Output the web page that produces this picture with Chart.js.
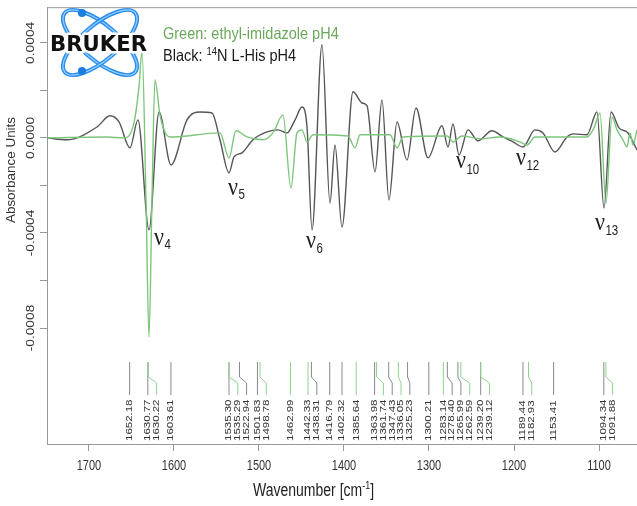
<!DOCTYPE html>
<html><head><meta charset="utf-8">
<script src="https://cdn.jsdelivr.net/npm/chart.js@4.4.0/dist/chart.umd.min.js"></script>
<style>html,body{margin:0;padding:0;background:#fff;overflow:hidden}#wrap{width:637px;height:506px}</style>
</head><body><div id="wrap"><canvas id="c" width="637" height="506"></canvas></div>
<script>
// ---- data ----
const xTicks = [1700, 1600, 1500, 1400, 1300, 1200, 1100];
const yTicks = [0.0004, 0.0002, 0, -0.0002, -0.0004, -0.0006, -0.0008];
const yLabelTicks = [0.0004, 0, -0.0004, -0.0008];
const yTickLabels = ['0.0004', '0.0000', '-0.0004', '-0.0008'];

const blackWn = [1749.4,1726.0,1690.6,1675.3,1664.7,1651.8,1642.4,1629.4,1617.6,1603.5,1584.7,1569.4,1555.3,1545.9,1535.3,1529.4,1520.0,1507.1,1490.6,1477.6,1467.1,1457.6,1449.4,1443.5,1437.6,1425.9,1416.5,1410.6,1402.4,1389.4,1378.8,1372.9,1363.5,1355.3,1347.1,1337.6,1325.9,1315.3,1301.2,1284.7,1277.6,1271.8,1264.7,1254.1,1242.4,1226.0,1212.9,1201.2,1189.4,1175.3,1165.9,1151.8,1137.6,1130.6,1114.1,1102.4,1094.1,1085.9,1076.5,1065.9,1060.0,1055.3];
const blackAbs = [0,-0.000008,0.000046,0.000093,0.000067,-0.000042,0.000076,-0.000387,0.000109,-0.000114,0.000076,0.000109,0.000105,-0.000008,-0.000147,-0.000080,-0.000063,-0.000008,0.000025,0.000034,0.000021,0.000076,0.000130,0.000046,-0.000387,0.000392,-0.000274,-0.000030,-0.000375,0.000194,0.000147,0.000135,-0.000143,0.000160,-0.000261,0.000067,-0.000093,0.000126,-0.000084,0.000051,-0.000038,0.000059,-0.000072,0.000034,-0.000012,0.000030,0.000004,-0.000017,-0.000038,0.000034,0.000021,-0.000059,0.000004,0.000017,0.000013,0.000109,-0.000295,0.000109,0.000042,0.000021,-0.000017,-0.000051];

const greenWn = [1749.4,1678.8,1658.8,1647.1,1641.2,1637.6,1632.9,1629.4,1625.9,1622.4,1616.5,1610.6,1604.7,1545.9,1535.3,1527.1,1514.1,1495.3,1483.5,1471.8,1462.4,1455.3,1449.4,1443.5,1436.5,1395.3,1387.0,1381.2,1345.9,1337.6,1330.6,1278.8,1271.8,1261.2,1240.0,1216.5,1192.9,1184.7,1175.3,1114.1,1105.9,1098.8,1091.8,1084.7,1078.8,1071.8,1067.1,1063.5,1060.0,1055.3];
const greenAbs = [0,0.000004,0,0.000063,0.000215,0.000365,-0.000261,-0.000838,-0.000261,0.000244,0.000097,0.000025,0.000004,0.000021,-0.000084,0.000030,0.000004,-0.000008,0.000021,0.000097,-0.000211,0.000021,0.000034,-0.000017,0.000013,0.000008,-0.000042,0.000013,0.000013,-0.000042,0.000004,0.000008,-0.000017,0.000008,-0.000004,0.000004,-0.000017,-0.000030,0.000004,0.000004,0.000042,0.000105,-0.000274,0.000088,0.000034,-0.000008,-0.000038,0.000021,-0.000030,0.000034];

const peakWn = [1652.18,1630.77,1630.22,1603.61,1535.30,1535.29,1522.94,1501.83,1498.78,1462.99,1442.33,1438.31,1416.79,1402.32,1385.64,1363.98,1361.74,1347.43,1336.05,1325.23,1300.21,1283.14,1278.40,1265.99,1262.59,1239.20,1239.12,1189.44,1182.93,1153.41,1094.34,1091.88];
const peakSeries = ['k','k','g','k','k','g','k','k','g','g','g','k','k','k','g','k','g','k','g','k','k','g','k','k','g','k','g','k','g','k','k','g'];

const nuSubs = ['4','5','6','10','12','13'];

// ---- helpers ----
function txt(c, s, x, y, font, color, rot, sx, sy, align, base) {
  c.save(); c.translate(x, y); if (rot) c.rotate(rot); c.scale(sx, sy);
  c.font = font; c.fillStyle = color; c.textAlign = align; c.textBaseline = base;
  c.fillText(s, 0, 0); c.restore();
}

const deco = {
  id: 'deco',
  afterDraw(chart) {
    const c = chart.ctx, a = chart.chartArea, xs = chart.scales.x, ys = chart.scales.y;
    c.save();
    // top frame line
    c.strokeStyle = '#999'; c.lineWidth = 1;
    c.beginPath(); c.moveTo(a.left, a.top + 0.5); c.lineTo(a.right, a.top + 0.5); c.stroke();

    // x tick labels
    xTicks.forEach(v => txt(c, String(v), xs.getPixelForValue(v), 466, '11px "Liberation Sans"', '#333', 0, 1, 1.3, 'center', 'middle'));
    // y tick labels (rotated)
    yLabelTicks.forEach((v, i) => txt(c, yTickLabels[i], 31, ys.getPixelForValue(v), '11px "Liberation Sans"', '#333', -Math.PI / 2, 1.25, 1, 'center', 'middle'));

    // axis titles
    c.save(); c.translate(253, 491); c.scale(1, 1.25);
    c.font = '14px "Liberation Sans"'; c.fillStyle = '#222'; c.textBaseline = 'middle'; c.textAlign = 'left';
    let w1 = 'Wavenumber [cm'; c.fillText(w1, 0, 0); let wx = c.measureText(w1).width;
    c.font = '9px "Liberation Sans"'; c.fillText('-1', wx, -4); wx += c.measureText('-1').width;
    c.font = '14px "Liberation Sans"'; c.fillText(']', wx, 0);
    c.restore();
    txt(c, 'Absorbance Units', 12, 170, '12px "Liberation Sans"', '#333', -Math.PI / 2, 1.12, 1, 'center', 'middle');

    // legend text
    c.save(); c.translate(163, 34); c.scale(1, 1.15);
    c.font = '14.5px "Liberation Sans"'; c.textBaseline = 'middle'; c.textAlign = 'left';
    c.fillStyle = '#6aa85a'; c.fillText('Green: ethyl-imidazole pH4', 0, 0);
    c.restore();
    c.save(); c.translate(163, 56); c.scale(1, 1.15);
    c.textBaseline = 'middle'; c.textAlign = 'left'; c.fillStyle = '#1a1a1a';
    c.font = '14.5px "Liberation Sans"'; let s1 = 'Black: '; c.fillText(s1, 0, 0); let lx = c.measureText(s1).width;
    c.font = '9.5px "Liberation Sans"'; c.fillText('14', lx, -3.5); lx += c.measureText('14').width;
    c.font = '14.5px "Liberation Sans"'; c.fillText('N L-His pH4', lx, 0);
    c.restore();

    // Bruker logo
    const cx = 100, cy = 42.5;
    [40, -40].forEach(ang => {
      c.save(); c.translate(cx, cy); c.rotate(ang * Math.PI / 180);
      c.beginPath(); c.ellipse(0, 0, 46, 17.7, 0, 0, Math.PI * 2);
      c.strokeStyle = '#2a8cf0'; c.lineWidth = 4; c.stroke();
      c.strokeStyle = '#9ad2ff'; c.lineWidth = 1.2; c.stroke();
      c.restore();
    });
    c.fillStyle = '#1a7ee0';
    [[82, 13], [82, 71]].forEach(p => { c.beginPath(); c.arc(p[0], p[1], 4, 0, Math.PI * 2); c.fill(); });
    c.save();
    c.font = 'bold 21px "DejaVu Sans"';
    const bw = c.measureText('BRUKER').width;
    c.translate(50, 50.5); c.scale(97 / bw, 1);
    c.textAlign = 'left'; c.textBaseline = 'alphabetic';
    c.lineJoin = 'round'; c.strokeStyle = '#fff'; c.lineWidth = 5; c.strokeText('BRUKER', 0, 0);
    c.fillStyle = '#111'; c.fillText('BRUKER', 0, 0);
    c.restore();

    // nu labels
    const nuPos = [[154, 245, 249], [228, 195, 199], [306, 248, 253], [456, 168, 174], [516, 165, 170], [595, 230, 235]];
    c.font = '21px "Liberation Serif"';
    const nuW = c.measureText('ν').width;
    nuPos.forEach((p, i) => {
      txt(c, 'ν', p[0], p[1], '21px "Liberation Serif"', '#222', 0, 1.05, 1.2, 'left', 'alphabetic');
      txt(c, nuSubs[i], p[0] + nuW * 1.05 + 0.5, p[2], '11.5px "Liberation Sans"', '#222', 0, 1, 1.3, 'left', 'alphabetic');
    });

    // peak position labels
    const items = peakWn.map((w, i) => ({ w, s: peakSeries[i], px: xs.getPixelForValue(w) })).sort((p, q) => p.px - q.px);
    let last = -1e9;
    items.forEach(it => { it.tx = Math.max(it.px, last + 8.8); last = it.tx; });
    c.lineWidth = 1;
    items.forEach(it => {
      c.strokeStyle = it.s === 'g' ? '#8ed48e' : '#8a8a8a';
      c.beginPath();
      if (it.tx - it.px > 0.5) {
        c.moveTo(it.px, 362); c.lineTo(it.px, 377); c.lineTo(it.tx, 383); c.lineTo(it.tx, 395);
      } else {
        c.moveTo(it.px, 362); c.lineTo(it.px, 395);
      }
      c.stroke();
      txt(c, it.w.toFixed(2), it.tx, 441, '8.5px "Liberation Sans"', '#333', -Math.PI / 2, 1.35, 1, 'left', 'middle');
    });
    c.restore();
  }
};

new Chart(document.getElementById('c').getContext('2d'), {
  type: 'line',
  data: {
    datasets: [
      { label: 'Black: 14N L-His pH4', data: blackWn.map((w, i) => ({ x: w, y: blackAbs[i] })), borderColor: '#555555', borderWidth: 1.4, pointRadius: 0, cubicInterpolationMode: 'monotone', fill: false, order: 1 },
      { label: 'Green: ethyl-imidazole pH4', data: greenWn.map((w, i) => ({ x: w, y: greenAbs[i] })), borderColor: '#7cc67c', borderWidth: 1.4, pointRadius: 0, cubicInterpolationMode: 'monotone', fill: false, order: 0 }
    ]
  },
  options: {
    responsive: false, animation: false, devicePixelRatio: 1,
    layout: { padding: { top: 7, left: 0, right: 0, bottom: 0 } },
    plugins: { legend: { display: false }, tooltip: { enabled: false } },
    scales: {
      x: {
        type: 'linear', reverse: true, min: 1055.3, max: 1749.4,
        afterBuildTicks: s => { s.ticks = xTicks.map(v => ({ value: v })); },
        afterFit: s => { s.height = 62; },
        grid: { drawOnChartArea: false, drawTicks: true, tickLength: 7, color: '#999' },
        border: { display: true, color: '#999', width: 1 },
        ticks: { callback: () => '', padding: 0 }
      },
      y: {
        type: 'linear', min: -0.001288, max: 0.00055,
        afterBuildTicks: s => { s.ticks = yTicks.map(v => ({ value: v })); },
        afterFit: s => { s.width = 47; },
        grid: { drawOnChartArea: false, drawTicks: true, tickLength: 7, color: '#999' },
        border: { display: true, color: '#999', width: 1 },
        ticks: { callback: () => '', padding: 0 }
      }
    }
  },
  plugins: [deco]
});
</script>
</body></html>
